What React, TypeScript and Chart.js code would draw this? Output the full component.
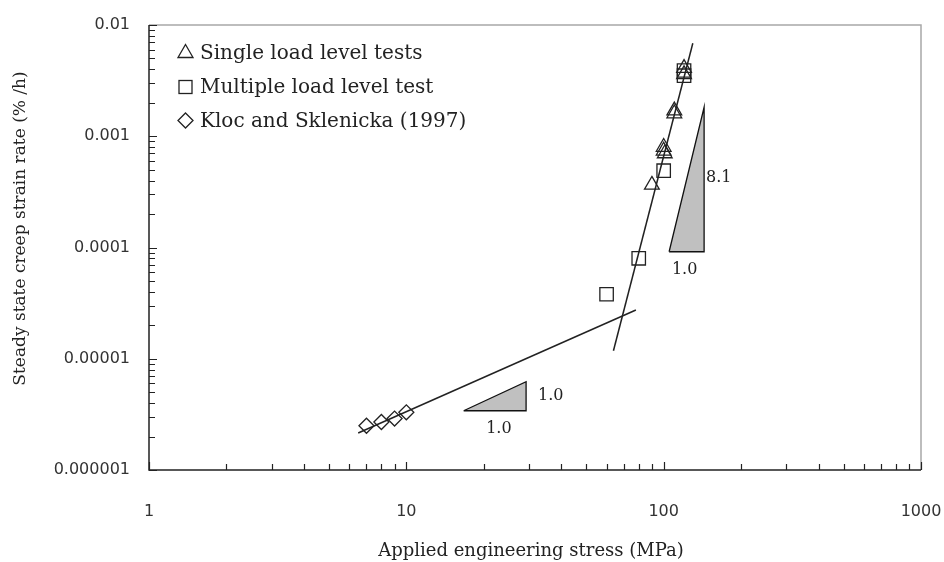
import React, { useEffect, useRef } from 'react';
import { Chart, registerables } from 'chart.js';

Chart.register(...registerables);

// ---- Data ----
const singleX = [120, 120, 110, 110, 100, 100, 101, 90];
const singleY = [0.0041, 0.0036, 0.0017, 0.0016, 0.0008, 0.00074, 0.0007, 0.000365];

const multiX = [120, 120, 100, 80, 60];
const multiY = [0.0039, 0.0035, 0.00049, 0.00008, 0.000038];

const klocX = [7, 8, 9, 10];
const klocY = [0.0000025, 0.0000027, 0.0000029, 0.0000033];

const fitLowX = [6.5, 78];
const fitLowY = [0.00000215, 0.0000274];
const fitHighX = [63.8, 129.8];
const fitHighY = [0.0000118, 0.00685];

const slopeLowX = [16.7, 29.2, 29.2, 16.7];
const slopeLowY = [0.00000341, 0.00000341, 0.00000622, 0.00000341];
const slopeHighX = [105, 143.6, 143.6, 105];
const slopeHighY = [0.0000916, 0.0000916, 0.00182, 0.0000916];

const slopeLowLabels = ['1.0', '1.0']; // [run, rise]
const slopeHighLabels = ['1.0', '8.1']; // [run, rise]

const legendLabels = ['Single load level tests', 'Multiple load level test', 'Kloc and Sklenicka (1997)'];
const xTickLabels = ['1', '10', '100', '1000'];
const yTickLabels = ['0.000001', '0.00001', '0.0001', '0.001', '0.01'];
const xTitle = 'Applied engineering stress (MPa)';
const yTitle = 'Steady state creep strain rate (% /h)';

const INK = '#222';
const SERIF = '"DejaVu Serif", serif';
const SANS = '"DejaVu Sans", sans-serif';

function toPts(xs: number[], ys: number[]) {
  return xs.map((x, i) => ({ x, y: ys[i] }));
}

function decadeTicks(lo: number, hi: number) {
  const out: any[] = [];
  for (let e = lo; e < hi; e++) {
    for (let m = 1; m <= 9; m++) out.push({ value: m * Math.pow(10, e), major: m === 1 });
  }
  out.push({ value: Math.pow(10, hi), major: true });
  return out;
}

const decorPlugin = {
  id: 'decor',
  beforeDatasetsDraw(chart: any) {
    const { ctx, chartArea: a, scales } = chart;
    ctx.save();
    ctx.lineCap = 'butt';
    // grey top & right frame
    ctx.strokeStyle = '#a8a8a8';
    ctx.lineWidth = 1.5;
    ctx.beginPath();
    ctx.moveTo(a.left, a.top);
    ctx.lineTo(a.right, a.top);
    ctx.lineTo(a.right, a.bottom);
    ctx.stroke();
    // black axes
    ctx.strokeStyle = INK;
    ctx.lineWidth = 1.5;
    ctx.beginPath();
    ctx.moveTo(a.left, a.top);
    ctx.lineTo(a.left, a.bottom);
    ctx.lineTo(a.right, a.bottom);
    ctx.stroke();
    // inward tick marks
    ctx.lineWidth = 1.2;
    ctx.beginPath();
    scales.x.ticks.forEach((t: any) => {
      const px = Math.round(scales.x.getPixelForValue(t.value)) + 0.5;
      const len = t.major ? 8 : 6;
      ctx.moveTo(px, a.bottom);
      ctx.lineTo(px, a.bottom - len);
    });
    scales.y.ticks.forEach((t: any) => {
      const py = Math.round(scales.y.getPixelForValue(t.value)) + 0.5;
      const len = t.major ? 8 : 6;
      ctx.moveTo(a.left, py);
      ctx.lineTo(a.left + len, py);
    });
    ctx.stroke();
    ctx.restore();
  },
  afterDraw(chart: any) {
    const { ctx, chartArea: a, scales } = chart;
    const xs = scales.x;
    const ys = scales.y;
    ctx.save();
    ctx.fillStyle = INK;

    // axis titles
    ctx.font = `18px ${SERIF}`;
    ctx.textAlign = 'center';
    ctx.textBaseline = 'middle';
    ctx.fillText(xTitle, (a.left + a.right) / 2 - 4, a.bottom + 81);
    ctx.save();
    ctx.translate(a.left - 128, (a.top + a.bottom) / 2 - 19);
    ctx.rotate(-Math.PI / 2);
    ctx.font = `17px ${SERIF}`;
    ctx.fillText(yTitle, 0, 0);
    ctx.restore();

    // legend
    ctx.strokeStyle = INK;
    ctx.lineWidth = 1.3;
    const sx = a.left + 36.5;
    const rows = [a.top + 26.5, a.top + 62, a.top + 95.5];
    // triangle
    ctx.beginPath();
    ctx.moveTo(sx, rows[0] - 7);
    ctx.lineTo(sx + 7.5, rows[0] + 6);
    ctx.lineTo(sx - 7.5, rows[0] + 6);
    ctx.closePath();
    ctx.stroke();
    // square
    ctx.strokeRect(sx - 6.5, rows[1] - 6.5, 13, 13);
    // diamond
    ctx.beginPath();
    ctx.moveTo(sx, rows[2] - 7.5);
    ctx.lineTo(sx + 7.5, rows[2]);
    ctx.lineTo(sx, rows[2] + 7.5);
    ctx.lineTo(sx - 7.5, rows[2]);
    ctx.closePath();
    ctx.stroke();
    ctx.font = `20px ${SERIF}`;
    ctx.textAlign = 'left';
    ctx.textBaseline = 'alphabetic';
    legendLabels.forEach((t, i) => ctx.fillText(t, a.left + 51, a.top + 34 + i * 34));

    // slope triangle labels
    ctx.font = `16px ${SERIF}`;
    ctx.textBaseline = 'middle';
    const geoMid = (p: number, q: number) => Math.sqrt(p * q);
    // low triangle
    ctx.textAlign = 'center';
    ctx.fillText(slopeLowLabels[0], xs.getPixelForValue(geoMid(slopeLowX[0], slopeLowX[1])) + 4, ys.getPixelForValue(slopeLowY[0]) + 18);
    ctx.textAlign = 'left';
    ctx.fillText(slopeLowLabels[1], xs.getPixelForValue(slopeLowX[1]) + 12, ys.getPixelForValue(geoMid(slopeLowY[1], slopeLowY[2])));
    // high triangle
    ctx.textAlign = 'center';
    ctx.fillText(slopeHighLabels[0], xs.getPixelForValue(geoMid(slopeHighX[0], slopeHighX[1])) - 2, ys.getPixelForValue(slopeHighY[0]) + 18);
    ctx.textAlign = 'left';
    ctx.fillText(slopeHighLabels[1], xs.getPixelForValue(slopeHighX[1]) + 2, ys.getPixelForValue(geoMid(slopeHighY[1], slopeHighY[2])) - 2);

    ctx.restore();
  },
};

export default function App() {
  const ref = useRef<HTMLCanvasElement | null>(null);

  useEffect(() => {
    if (!ref.current) return;
    const markerBase = {
      backgroundColor: 'transparent',
      borderColor: INK,
      pointBorderWidth: 1.3,
      showLine: false,
    };
    const chart = new Chart(ref.current, {
      type: 'scatter',
      data: {
        datasets: [
          { ...markerBase, label: legendLabels[0], data: toPts(singleX, singleY), pointStyle: 'triangle', pointRadius: 8.5 },
          { ...markerBase, label: legendLabels[1], data: toPts(multiX, multiY), pointStyle: 'rect', pointRadius: 9.5 },
          { ...markerBase, label: legendLabels[2], data: toPts(klocX, klocY), pointStyle: 'rectRot', pointRadius: 7.5 },
          { type: 'line', label: 'fit low', data: toPts(fitLowX, fitLowY), borderColor: INK, borderWidth: 1.5, pointRadius: 0, fill: false, tension: 0 },
          { type: 'line', label: 'fit high', data: toPts(fitHighX, fitHighY), borderColor: INK, borderWidth: 1.5, pointRadius: 0, fill: false, tension: 0 },
          { type: 'line', label: 'slope low', data: toPts(slopeLowX, slopeLowY), borderColor: '#111', backgroundColor: '#c0c0c0', borderWidth: 1.3, pointRadius: 0, fill: 'shape', tension: 0 },
          { type: 'line', label: 'slope high', data: toPts(slopeHighX, slopeHighY), borderColor: '#111', backgroundColor: '#c0c0c0', borderWidth: 1.3, pointRadius: 0, fill: 'shape', tension: 0 },
        ] as any,
      },
      options: {
        responsive: false,
        animation: false,
        layout: { padding: { top: 25, right: 23, left: 0, bottom: 0 } },
        plugins: { legend: { display: false }, tooltip: { enabled: false } },
        scales: {
          x: {
            type: 'logarithmic',
            position: 'bottom',
            min: 1,
            max: 1000,
            grid: { display: false, drawTicks: false },
            border: { display: false },
            ticks: {
              autoSkip: false,
              maxRotation: 0,
              padding: 32,
              color: '#333',
              font: { family: SANS, size: 16 },
              callback: (v: any, i: number, ticks: any[]) =>
                ticks[i].major ? xTickLabels[Math.round(Math.log10(Number(v)))] : '',
            },
            afterBuildTicks: (s: any) => { s.ticks = decadeTicks(0, 3); },
            afterFit: (s: any) => { s.height = 92; s.paddingLeft = 0; s.paddingRight = 0; },
          },
          y: {
            type: 'logarithmic',
            position: 'left',
            min: 0.000001,
            max: 0.01,
            grid: { display: false, drawTicks: false },
            border: { display: false },
            ticks: {
              autoSkip: false,
              padding: 19,
              color: '#333',
              font: { family: SANS, size: 16 },
              callback: (v: any, i: number, ticks: any[]) =>
                ticks[i].major ? yTickLabels[Math.round(Math.log10(Number(v))) + 6] : '',
            },
            afterBuildTicks: (s: any) => { s.ticks = decadeTicks(-6, -2); },
            afterFit: (s: any) => { s.width = 149; s.paddingTop = 0; s.paddingBottom = 0; },
          },
        },
      } as any,
      plugins: [decorPlugin],
    });
    return () => chart.destroy();
  }, []);

  return (
    <div style={{ position: 'absolute', left: 0, top: 0, width: 944, height: 562, background: '#fff' }}>
      <canvas ref={ref} width={944} height={562} style={{ display: 'block' }} />
    </div>
  );
}
